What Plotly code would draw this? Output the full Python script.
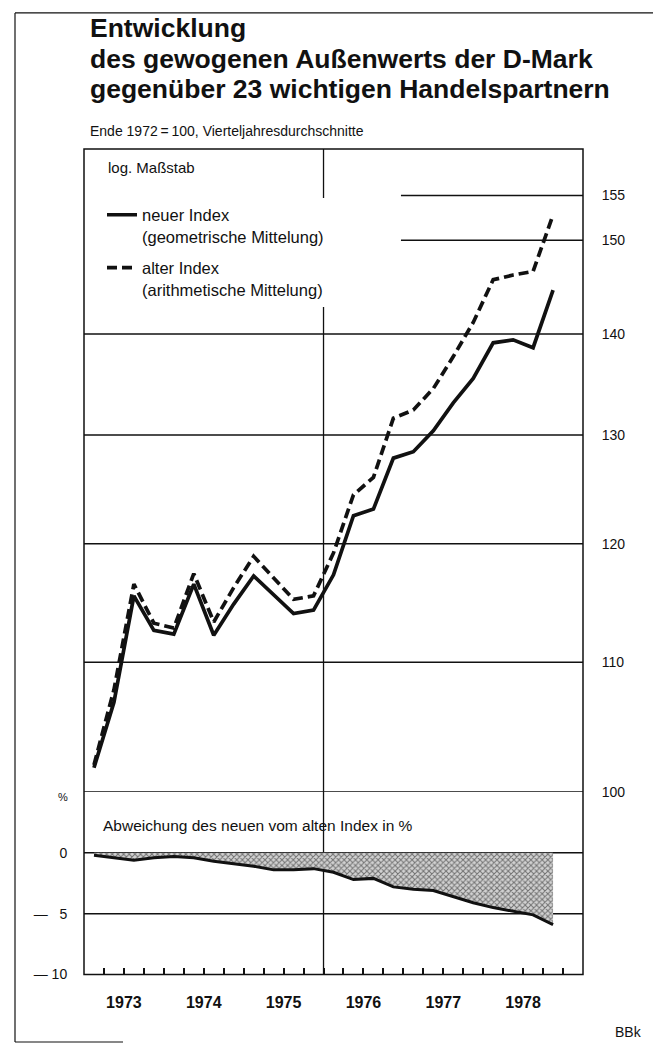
import plotly.graph_objects as go

# ---------------- data ----------------
quarters = ["1973-1", "1973-2", "1973-3", "1973-4",
            "1974-1", "1974-2", "1974-3", "1974-4",
            "1975-1", "1975-2", "1975-3", "1975-4",
            "1976-1", "1976-2", "1976-3", "1976-4",
            "1977-1", "1977-2", "1977-3", "1977-4",
            "1978-1", "1978-2", "1978-3", "1978-4"]

neuer_index = [101.8, 106.8, 115.5, 112.6, 112.3, 116.5, 112.2, 114.8,
               117.2, 115.6, 114.0, 114.3, 117.3, 122.5, 123.1, 127.8,
               128.4, 130.4, 133.1, 135.5, 139.1, 139.4, 138.6, 144.6]

alter_index = [102.0, 107.8, 116.5, 113.2, 112.8, 117.4, 113.3, 116.2,
               118.9, 117.0, 115.2, 115.5, 119.2, 124.4, 126.0, 131.6,
               132.4, 134.5, 137.7, 141.2, 145.7, 146.2, 146.6, 152.8]

abweichung = [-0.2, -0.4, -0.6, -0.4, -0.3, -0.4, -0.7, -0.9,
              -1.1, -1.4, -1.4, -1.3, -1.6, -2.2, -2.1, -2.8,
              -3.0, -3.1, -3.6, -4.1, -4.5, -4.8, -5.1, -5.9]

years = [1973, 1974, 1975, 1976, 1977, 1978]
upper_ticks = [100, 110, 120, 130, 140, 150, 155]
upper_full_grid = [100, 110, 120, 130, 140]
upper_partial_grid = [150, 155]
lower_grid = [0, -5]
lower_ticks = [0, -5, -10]
lower_ticktext = ["0", "\u2014   5", "\u2014 10"]


def qpos(q):
    y, n = q.split("-")
    return int(y) + (int(n) - 0.5) / 4.0


x = [qpos(q) for q in quarters]

# ---------------- layout geometry (pixels) ----------------
W, H = 661, 1045
BOX_L, BOX_R = 76, 575
BOX_T, SPLIT, BOX_B = 142, 790, 974
X_RANGE = [1973.0, 1979.25]
PARTIAL_START = 1976.97
LOG_TOP = 2.2052


def px(v):
    return v / W


def py(v):
    return 1 - v / H


FONT = "Liberation Sans, Arial, Helvetica, sans-serif"
INK = "#111111"

fig = go.Figure()

fig.add_trace(go.Scatter(
    x=x, y=neuer_index, mode="lines", xaxis="x2", yaxis="y",
    name="neuer Index<br>(geometrische Mittelung)", legendgroup="neu",
    line=dict(color=INK, width=3.7), hoverinfo="skip"))
fig.add_trace(go.Scatter(
    x=x, y=alter_index, mode="lines", xaxis="x2", yaxis="y",
    name="alter Index<br>(arithmetische Mittelung)", legendgroup="alt",
    line=dict(color=INK, width=3.7, dash="10px,5px"), hoverinfo="skip"))

# lower panel: baseline then filled deviation
fig.add_trace(go.Scatter(
    x=x, y=[0] * len(x), mode="lines", xaxis="x", yaxis="y2",
    line=dict(color=INK, width=0), showlegend=False, hoverinfo="skip"))
fig.add_trace(go.Scatter(
    x=x, y=abweichung, mode="lines", xaxis="x", yaxis="y2",
    fill="tonexty", fillcolor="#c4c4c4",
    fillpattern=dict(shape="x", size=4, solidity=0.45,
                     fgcolor=INK, bgcolor="#d2d2d2"),
    line=dict(color=INK, width=3), showlegend=False, hoverinfo="skip"))

# ---------------- shapes ----------------
shapes = []
shapes.append(dict(type="rect", xref="paper", yref="paper",
                   x0=px(BOX_L), x1=px(BOX_R), y0=py(BOX_B), y1=py(BOX_T),
                   line=dict(color=INK, width=1.5), layer="above"))
shapes.append(dict(type="line", xref="x", yref="paper",
                   x0=1976, x1=1976, y0=py(BOX_B), y1=py(BOX_T),
                   line=dict(color=INK, width=1.3), layer="below"))
for g in upper_full_grid:
    shapes.append(dict(type="line", xref="paper", yref="y",
                       x0=px(BOX_L), x1=px(BOX_R), y0=g, y1=g,
                       line=dict(color=INK, width=1.5), layer="below"))
for g in upper_partial_grid:
    shapes.append(dict(type="line", xref="x2", yref="y",
                       x0=PARTIAL_START, x1=X_RANGE[1], y0=g, y1=g,
                       line=dict(color=INK, width=1.5), layer="below"))
for g in lower_grid:
    shapes.append(dict(type="line", xref="paper", yref="y2",
                       x0=px(BOX_L), x1=px(BOX_R), y0=g, y1=g,
                       line=dict(color=INK, width=1.5), layer="below"))
# outer page frame
FR_L, FR_R, FR_T, FR_B = 7, 655, 5, 1042
shapes.append(dict(type="line", xref="paper", yref="paper",
                   x0=px(FR_L), x1=px(FR_R), y0=py(FR_T), y1=py(FR_T),
                   line=dict(color=INK, width=1.2)))
shapes.append(dict(type="line", xref="paper", yref="paper",
                   x0=px(FR_L), x1=px(FR_L), y0=py(FR_T), y1=py(FR_B),
                   line=dict(color=INK, width=1.2)))
shapes.append(dict(type="line", xref="paper", yref="paper",
                   x0=px(FR_R), x1=px(FR_R), y0=py(FR_T), y1=py(FR_B),
                   line=dict(color=INK, width=1.2)))
shapes.append(dict(type="line", xref="paper", yref="paper",
                   x0=px(FR_L), x1=px(115), y0=py(FR_B), y1=py(FR_B),
                   line=dict(color=INK, width=1.2)))

# ---------------- annotations ----------------
ann = []
title_lines = ["Entwicklung",
               "des gewogenen Au\u00dfenwerts der D-Mark",
               "gegen\u00fcber 23 wichtigen Handelspartnern"]
for i, t in enumerate(title_lines):
    ann.append(dict(text="<b>" + t + "</b>", xref="paper", yref="paper",
                    x=px(80), y=py(20 + 31 * i), xanchor="left", yanchor="middle",
                    showarrow=False, font=dict(family=FONT, size=26.5, color=INK)))
ann.append(dict(text="Ende 1972\u2009=\u2009100, Vierteljahresdurchschnitte",
                xref="paper", yref="paper", x=px(80), y=py(124),
                xanchor="left", yanchor="middle", showarrow=False,
                font=dict(family=FONT, size=14, color=INK)))
ann.append(dict(text="log. Ma\u00dfstab", xref="paper", yref="paper",
                x=px(98), y=py(161), xanchor="left", yanchor="middle",
                showarrow=False, font=dict(family=FONT, size=15, color=INK)))
ann.append(dict(text="Abweichung des neuen vom alten Index in %",
                xref="paper", yref="paper", x=px(93), y=py(824),
                xanchor="left", yanchor="middle", showarrow=False,
                font=dict(family=FONT, size=15.5, color=INK)))
ann.append(dict(text="%", xref="paper", yref="paper", x=px(62), y=py(795),
                xanchor="right", yanchor="middle", showarrow=False,
                font=dict(family=FONT, size=11, color=INK)))
ann.append(dict(text="BBk", xref="paper", yref="paper", x=px(636), y=py(1032),
                xanchor="right", yanchor="middle", showarrow=False,
                font=dict(family=FONT, size=14, color=INK)))

year_mid = [yr + 0.5 for yr in years]
quarter_bounds = [yr + q / 4.0 for yr in years for q in range(1, 5)]

fig.update_layout(
    width=W, height=H,
    margin=dict(l=0, r=0, t=0, b=0),
    paper_bgcolor="white", plot_bgcolor="white",
    font=dict(family=FONT, color=INK),
    showlegend=True,
    legend=dict(x=px(94), y=py(191), xanchor="left", yanchor="top",
                bgcolor="white", borderwidth=0, traceorder="grouped",
                font=dict(family=FONT, size=16.5, color=INK),
                valign="top", itemwidth=30, tracegroupgap=7),
    xaxis=dict(domain=[px(BOX_L), px(BOX_R)], range=X_RANGE, anchor="y2",
               showgrid=False, zeroline=False, showline=False,
               tickmode="array", tickvals=year_mid,
               ticktext=[str(y) for y in years],
               ticks="outside", ticklen=13, tickcolor="rgba(0,0,0,0)",
               tickfont=dict(family=FONT, size=16, color=INK, weight="bold"),
               minor=dict(tickmode="array", tickvals=quarter_bounds,
                          ticks="inside", ticklen=7, tickwidth=1.5,
                          tickcolor=INK, showgrid=False)),
    xaxis3=dict(overlaying="x", range=X_RANGE, anchor="y2", side="bottom",
                showgrid=False, zeroline=False, showline=False,
                tickmode="array", tickvals=years[1:] + [1979],
                ticks="outside", ticklen=27, tickwidth=1.5, tickcolor=INK,
                showticklabels=False),
    xaxis2=dict(domain=[px(BOX_L), px(BOX_R)], range=X_RANGE, anchor="y",
                matches="x", visible=False),
    yaxis=dict(domain=[py(SPLIT), py(BOX_T)], type="log",
               range=[2.0, LOG_TOP], anchor="x2", side="right",
               showgrid=False, zeroline=False, showline=False,
               tickmode="array", tickvals=upper_ticks,
               ticktext=[str(v) for v in upper_ticks],
               ticks="outside", ticklen=15, tickcolor="rgba(0,0,0,0)",
               tickfont=dict(family=FONT, size=14, color=INK)),
    yaxis2=dict(domain=[py(BOX_B), py(SPLIT)], range=[-10, 5],
                anchor="x", side="left",
                showgrid=False, zeroline=False, showline=False,
                tickmode="array", tickvals=lower_ticks, ticktext=lower_ticktext,
                ticks="outside", ticklen=13, tickcolor="rgba(0,0,0,0)",
                tickfont=dict(family=FONT, size=14, color=INK)),
    shapes=shapes,
    annotations=ann,
)

fig.write_html("out.html")
